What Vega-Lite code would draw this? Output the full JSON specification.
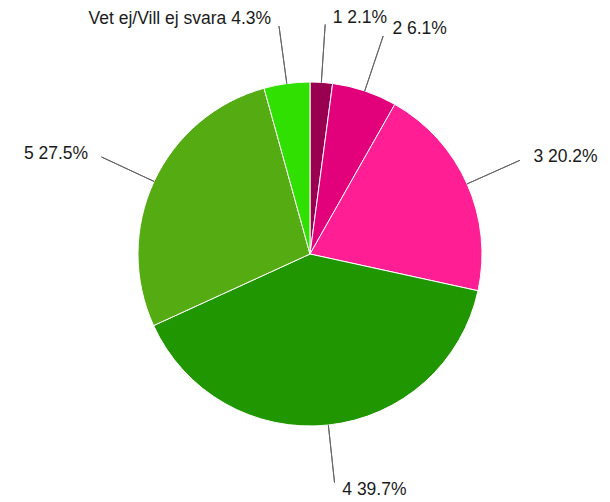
{
  "$schema": "https://vega.github.io/schema/vega-lite/v6.json",
  "autosize": {"type": "fit", "contains": "padding"},
  "width": 610,
  "height": 502,
  "padding": {"left": 10, "top": 6, "right": 0, "bottom": 0},
  "background": "white",
  "view": {"stroke": null},
  "data": {
    "values": [
      {"label": "1", "value": 2.1, "caption": "1 2.1%"},
      {"label": "2", "value": 6.1, "caption": "2 6.1%"},
      {"label": "3", "value": 20.2, "caption": "3 20.2%"},
      {"label": "4", "value": 39.7, "caption": "4 39.7%"},
      {"label": "5", "value": 27.5, "caption": "5 27.5%"},
      {"label": "Vet ej/Vill ej svara", "value": 4.3, "caption": "Vet ej/Vill ej svara 4.3%"}
    ]
  },
  "encoding": {
    "theta": {"field": "value", "type": "quantitative", "stack": true}
  },
  "layer": [
    {
      "mark": {"type": "arc", "outerRadius": 172, "stroke": "white", "strokeWidth": 1},
      "encoding": {
        "color": {
          "field": "label",
          "type": "nominal",
          "legend": null,
          "scale": {
            "domain": ["1", "2", "3", "4", "5", "Vet ej/Vill ej svara"],
            "range": ["#990050", "#e3007b", "#ff1e93", "#209600", "#55ab12", "#30e000"]
          }
        }
      }
    },
    {
      "mark": {"type": "arc", "innerRadius": 172, "outerRadius": 230, "padAngle": 3, "fillOpacity": 0, "stroke": "#666666", "strokeWidth": 1},
      "encoding": {
        "detail": {"field": "label", "type": "nominal"}
      }
    },
    {
      "mark": {
        "type": "text",
        "radius": 237,
        "font": "Liberation Sans",
        "fontSize": 17.5,
        "color": "#1a1a1a",
        "baseline": "middle",
        "align": {"expr": "datum.value_start + datum.value_end > 100 ? 'right' : 'left'"},
        "dx": {"expr": "datum.value_start + datum.value_end > 100 ? -7 : 7"}
      },
      "encoding": {
        "detail": {"field": "label", "type": "nominal"},
        "text": {"field": "caption", "type": "nominal"}
      }
    }
  ]
}
